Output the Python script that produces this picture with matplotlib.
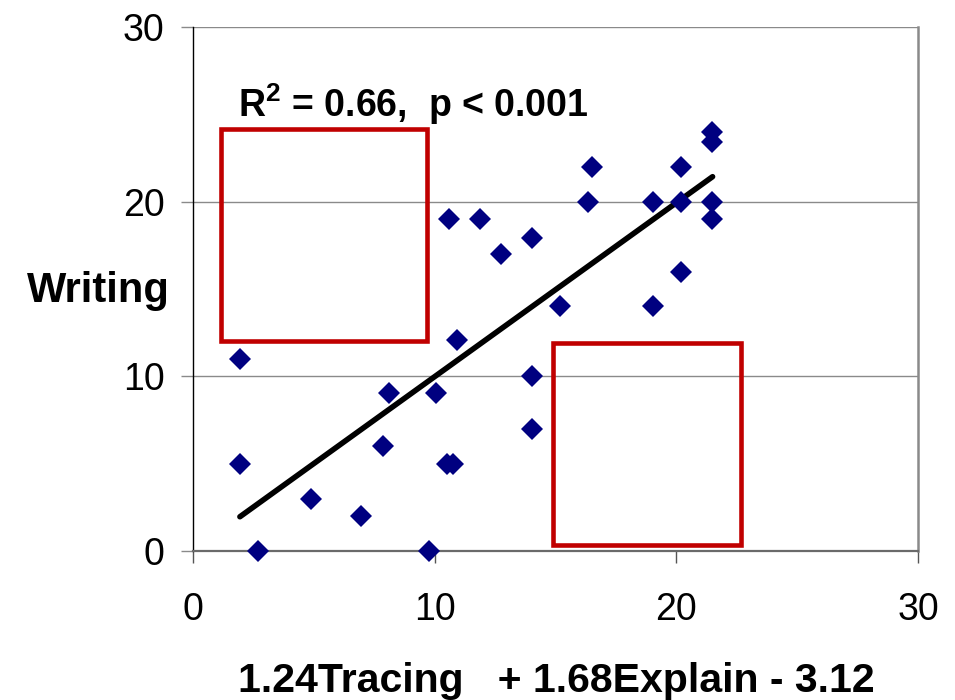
import matplotlib
matplotlib.use("Agg")
import matplotlib.pyplot as plt
from matplotlib.patches import Rectangle

plt.rcParams['font.family'] = ['Liberation Sans', 'DejaVu Sans']
plt.rcParams['mathtext.fontset'] = 'custom'
plt.rcParams['mathtext.rm'] = 'Liberation Sans:bold'
plt.rcParams['mathtext.bf'] = 'Liberation Sans:bold'
plt.rcParams['mathtext.it'] = 'Liberation Sans:bold'

# Predicted score (x) vs Writing (y)
predicted = [1.94, 1.94, 2.7, 4.9, 6.96, 7.87, 8.12, 10.05, 9.78, 10.5, 10.75,
             10.94, 10.59, 11.87, 12.74, 14.04, 15.18, 16.5, 16.36, 19.05,
             19.05, 20.19, 20.19, 20.19, 21.49, 21.49, 21.49, 21.49, 14.04, 14.04]
writing = [11.0, 5.0, 0.0, 3.0, 2.0, 6.0, 9.05, 9.05, 0.0, 5.0, 5.0,
           12.1, 19.0, 19.0, 17.0, 17.9, 14.0, 22.0, 20.0, 20.0,
           14.0, 22.0, 20.0, 16.0, 24.0, 23.4, 20.0, 19.0, 10.0, 7.0]

trend_x = [1.94, 21.5]
trend_y = [1.96, 21.43]

# annotation boxes (x0, y0, width, height) in data units
boxes = [(1.16, 12.0, 8.52, 12.15), (14.9, 0.35, 7.77, 11.55)]

xticks = [0, 10, 20, 30]
yticks = [0, 10, 20, 30]

fig = plt.figure(figsize=(9.55, 7.0), dpi=100)
ax = fig.add_axes([193/955, 1-551/700, (918-193)/955, (551-27)/700])

ax.set_xlim(0, 30)
ax.set_ylim(0, 30)
ax.set_xticks(xticks)
ax.set_yticks(yticks)
ax.yaxis.grid(True, color='#8a8a8a', linewidth=1.0)
ax.set_axisbelow(True)

ax.spines['top'].set_visible(False)
ax.spines['right'].set_color('#8a8a8a')
ax.spines['right'].set_linewidth(1.8)
ax.spines['left'].set_color('black')
ax.spines['left'].set_linewidth(1.0)
ax.spines['bottom'].set_color('#6a6a6a')
ax.spines['bottom'].set_linewidth(1.6)

ax.tick_params(axis='y', direction='out', length=8.5, width=1.0, color='#8a8a8a',
               pad=12, labelsize=27)
ax.tick_params(axis='x', direction='out', length=8.5, width=1.0, color='#555555',
               pad=21, labelsize=27)

for (x0, y0, w, h) in boxes:
    ax.add_patch(Rectangle((x0, y0), w, h, fill=False, edgecolor='#c00000',
                           linewidth=3.3, zorder=2))

ax.plot(trend_x, trend_y, color='black', linewidth=4.0, solid_capstyle='round', zorder=4)
ax.plot(predicted, writing, linestyle='none', marker='D', markersize=11,
        color='#000080', markeredgewidth=0, zorder=5, clip_on=False)

ax.text(1.85, 24.86, r"R$^{\mathbf{2}}$ = 0.66,  p < 0.001", fontsize=27,
        fontweight='bold', ha='left', va='baseline', zorder=6)

fig.text(98/955, 1-302/700, "Writing", fontsize=30, fontweight='bold',
         ha='center', va='baseline')
fig.text(556/955, 1-692/700, "1.24Tracing   + 1.68Explain - 3.12", fontsize=29.5,
         fontweight='bold', ha='center', va='baseline')

fig.savefig("out.png", dpi=100)
